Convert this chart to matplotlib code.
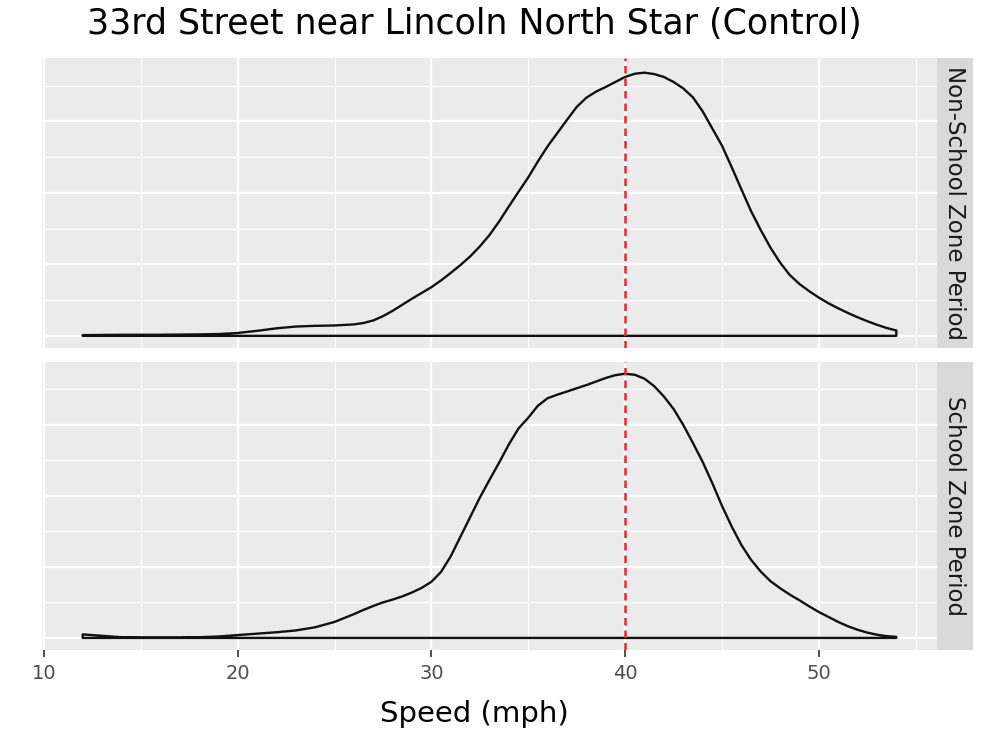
import numpy as np
import matplotlib
matplotlib.use("Agg")
import matplotlib.pyplot as plt
from matplotlib.ticker import MultipleLocator

# Speed density estimates (mph -> density), one series per period
speed_non_school = [12, 14, 16, 18, 19, 20, 21, 22, 23, 24, 25, 26, 26.5, 27, 27.5, 28, 28.5,
                    29, 29.5, 30, 30.5, 31, 31.5, 32, 32.5, 33, 33.5, 34, 34.5, 35, 35.5, 36,
                    36.5, 37, 37.5, 38, 38.5, 39, 39.5, 40, 40.5, 41, 41.5, 42, 42.5, 43,
                    43.5, 44, 44.5, 45, 45.5, 46, 46.5, 47, 47.5, 48, 48.5, 49, 49.5, 50,
                    50.5, 51, 51.5, 52, 52.5, 53, 53.5, 54]
density_non_school = [0.0002, 0.0003, 0.0003, 0.0004, 0.0005, 0.0008, 0.0014, 0.0021, 0.0026,
                      0.0028, 0.0029, 0.0032, 0.0036, 0.0043, 0.0055, 0.0070, 0.0087, 0.0104,
                      0.0120, 0.0136, 0.0155, 0.0176, 0.0198, 0.0222, 0.0250, 0.0282, 0.0320,
                      0.0362, 0.0403, 0.0443, 0.0488, 0.0530, 0.0567, 0.0604, 0.0640, 0.0666,
                      0.0683, 0.0696, 0.0710, 0.0724, 0.0733, 0.0736, 0.0732, 0.0724, 0.0710,
                      0.0692, 0.0667, 0.0628, 0.0580, 0.0532, 0.0472, 0.0410, 0.0349, 0.0296,
                      0.0247, 0.0205, 0.0170, 0.0145, 0.0125, 0.0107, 0.0091, 0.0077, 0.0064,
                      0.0052, 0.0041, 0.0031, 0.0022, 0.0015]

speed_school = [12, 13, 14, 15, 16, 17, 18, 19, 20, 21, 22, 23, 24, 25, 25.5, 26, 26.5, 27,
                27.5, 28, 28.5, 29, 29.5, 30, 30.5, 31, 31.5, 32, 32.5, 33, 33.5, 34, 34.5,
                35, 35.5, 36, 36.5, 37, 37.5, 38, 38.5, 39, 39.5, 40, 40.5, 41, 41.5, 42,
                42.5, 43, 43.5, 44, 44.5, 45, 45.5, 46, 46.5, 47, 47.5, 48, 48.5, 49, 49.5,
                50, 50.5, 51, 51.5, 52, 52.5, 53, 53.5, 54]
density_school = [0.0010, 0.0006, 0.0002, 0.0001, 0.0001, 0.0001, 0.0002, 0.0004, 0.0008,
                  0.0012, 0.0016, 0.0021, 0.0030, 0.0045, 0.0056, 0.0067, 0.0079, 0.0090,
                  0.0100, 0.0108, 0.0117, 0.0128, 0.0141, 0.0158, 0.0186, 0.0230, 0.0285,
                  0.0340, 0.0395, 0.0445, 0.0494, 0.0545, 0.0590, 0.0620, 0.0654, 0.0675,
                  0.0685, 0.0694, 0.0703, 0.0712, 0.0722, 0.0732, 0.0740, 0.0744, 0.0741,
                  0.0730, 0.0709, 0.0680, 0.0645, 0.0600, 0.0549, 0.0496, 0.0436, 0.0372,
                  0.0314, 0.0262, 0.0220, 0.0187, 0.0160, 0.0140, 0.0122, 0.0106, 0.0089,
                  0.0073, 0.0059, 0.0045, 0.0033, 0.0023, 0.0015, 0.0009, 0.0005, 0.0003]

panel_labels = ["Non-School Zone Period", "School Zone Period"]
speed_limit = 40
x_ticks = [10, 20, 30, 40, 50]

panels = [(speed_non_school, density_non_school), (speed_school, density_school)]

W, H = 984, 746
fig = plt.figure(figsize=(W / 100, H / 100), dpi=100)

# panel boxes in pixels: (top, bottom)
rows = [(58, 348), (362, 650)]
left, right = 42, 937
strip_w = 36

for i, ((x, d), (top, bottom)) in enumerate(zip(panels, rows)):
    ax = fig.add_axes([left / W, 1 - bottom / H, (right - left) / W, (bottom - top) / H])
    ax.set_facecolor("#ebebeb")
    for s in ax.spines.values():
        s.set_visible(False)

    ax.set_xlim(9.9, 56.1)
    ax.set_ylim(-0.0034, 0.0777)
    ax.xaxis.set_major_locator(MultipleLocator(10))
    ax.xaxis.set_minor_locator(MultipleLocator(5))
    ax.yaxis.set_major_locator(MultipleLocator(0.02))
    ax.yaxis.set_minor_locator(MultipleLocator(0.01))
    ax.grid(which="major", color="white", linewidth=1.6)
    ax.grid(which="minor", color="white", linewidth=0.8)
    ax.set_axisbelow(True)
    ax.tick_params(axis="y", which="both", length=0, labelleft=False)
    ax.tick_params(axis="x", which="minor", length=0)

    # density outline, closed along the baseline like geom_density
    xs = np.r_[x, x[::-1]]
    ys = np.r_[d, np.zeros(len(d))]
    ax.fill(xs, ys, fill=False, edgecolor="#111111", linewidth=1.7,
            joinstyle="round", zorder=3)

    ax.axvline(speed_limit, color="#e8262a", linestyle=(0, (3, 2)), linewidth=1.8, zorder=4)

    if i == 0:
        ax.tick_params(axis="x", which="major", length=0, labelbottom=False)
    else:
        ax.set_xticks(x_ticks)
        ax.tick_params(axis="x", which="major", length=5, width=1.2, color="#333333",
                       labelsize=14, labelcolor="#4d4d4d", pad=5)

    # facet strip on the right
    sx = fig.add_axes([right / W, 1 - bottom / H, strip_w / W, (bottom - top) / H])
    sx.set_facecolor("#d9d9d9")
    sx.set_xticks([])
    sx.set_yticks([])
    for s in sx.spines.values():
        s.set_visible(False)
    sx.text(0.5, 0.5, panel_labels[i], rotation=270, ha="center", va="center",
            fontsize=16.5, color="#1a1a1a", transform=sx.transAxes)

fig.text(474 / W, 1 - 24 / H, "33rd Street near Lincoln North Star (Control)",
         ha="center", va="center", fontsize=25, color="black")
fig.text(474 / W, 1 - 714 / H, "Speed (mph)", ha="center", va="center",
         fontsize=21, color="black")

fig.savefig("out.png", dpi=100, facecolor="white")
